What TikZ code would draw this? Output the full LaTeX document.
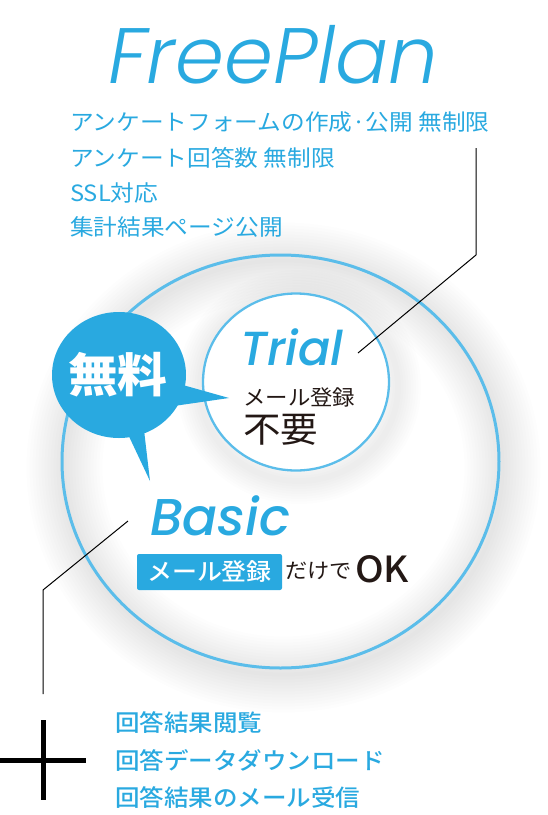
\documentclass[tikz,border=0pt]{standalone}
\usepackage{fontspec}
\usepackage{graphicx}
\usetikzlibrary{shapes,positioning,calc}
\setmainfont{Noto Sans CJK JP}
\newfontfamily\jpMed{Noto Sans CJK JP Medium}
\newfontfamily\planLight{Poppins Light Italic}
\newfontfamily\planMed{Poppins Medium Italic}
\definecolor{planblue}{HTML}{29A9E0}
\definecolor{ringblue}{HTML}{5BBDEA}
\definecolor{inkblack}{HTML}{231815}
\newcommand{\wide}[1]{\scalebox{1.057}[1]{#1}}

\begin{document}
\begin{tikzpicture}
  [x=1pt,y=-1pt,
   ringN/.style={ellipse,draw=ringblue,inner sep=0pt},
   glowN/.style={draw=black,draw opacity=0.008},
   featN/.style={anchor=west,inner sep=0pt,text=planblue,font=\fontsize{22.4}{26}\selectfont},
   listN/.style={anchor=west,inner sep=0pt,text=planblue,font=\jpMed\fontsize{23.2}{26}\selectfont},
   inkN/.style={anchor=west,inner sep=0pt,text=inkblack},
   leadL/.style={draw=black,line width=1pt},
   crossL/.style={draw=black,line width=5pt}]

  \useasboundingbox (0,0) rectangle (548,815);

  \coordinate (bigC) at (280.5,461.5);
  \coordinate (smallC) at (296,382);

  % soft shadow round the rings
  \foreach \w in {76,70,...,4}
    \draw[glowN,line width=\w pt] ($(bigC)+(3,6)$) ellipse [x radius=219, y radius=207];
  \foreach \w in {46,41,...,4}
    \draw[glowN,line width=\w pt] ($(smallC)+(3,5)$) ellipse [x radius=99, y radius=94];

  \node[ringN,line width=3pt,minimum width=437pt,minimum height=413pt] (basicR) at (bigC) {};
  \node[ringN,line width=2.3pt,fill=white,minimum width=186pt,minimum height=177pt] (trialR) at (smallC) {};

  % speech bubble
  \node[ellipse,fill=planblue,inner sep=0pt,minimum width=134pt,minimum height=126pt] (bubble) at (119,375) {};
  \fill[planblue] (165,380) -- (229,398) -- (160,408) -- cycle;
  \fill[planblue] (126,430) -- (150,481) -- (144,430) -- cycle;
  \node[text=white,inner sep=0pt,font=\bfseries\fontsize{47}{50}\selectfont] (free) at (118,375) {\wide{無料}};

  \node[anchor=base west,inner sep=0pt,text=planblue] (title) at (108,83)
    {\resizebox{330pt}{!}{\planLight FreePlan}};

  \node[featN] (feat1) at (70,122) {\wide{アンケートフォームの作成·公開 無制限}};
  \node[featN] (feat2) at (70,158) {\wide{アンケート回答数 無制限}};
  \node[featN] (feat3) at (70,193) {\wide{SSL対応}};
  \node[featN] (feat4) at (70,227) {\wide{集計結果ページ公開}};

  \node[anchor=base west,inner sep=0pt,text=planblue] (trial) at (240,365)
    {\resizebox{103pt}{!}{\planMed Trial}};
  \node[inkN,font=\fontsize{21.2}{24}\selectfont] (trialMail) at (243,397) {\wide{メール登録}};
  \node[inkN,font=\fontsize{35.5}{38}\selectfont] (trialNo) at (243,430) {\wide{不要}};

  \node[anchor=base west,inner sep=0pt,text=planblue] (basic) at (150,535)
    {\resizebox{140pt}{!}{\planMed Basic}};
  \node[fill=planblue,rounded corners=2pt,inner sep=0pt,minimum width=145pt,minimum height=36pt,
        text=white,font=\jpMed\fontsize{23.6}{26}\selectfont] (mailBox) at (209.5,572) {\wide{メール登録}};
  \node[inkN,font=\fontsize{21}{24}\selectfont] (only) at (285,571) {\wide{だけで}};
  \node[anchor=base west,inner sep=0pt,text=inkblack,font=\jpMed\fontsize{36}{38}\selectfont] (ok) at (355,582) {\wide{OK}};

  \node[listN] (plus1) at (115,723) {\wide{回答結果閲覧}};
  \node[listN] (plus2) at (115,760) {\wide{回答データダウンロード}};
  \node[listN] (plus3) at (115,798) {\wide{回答結果のメール受信}};

  % leader lines
  \coordinate (trialEnd) at (358,353);
  \coordinate (trialKnee) at (476,255);
  \coordinate (trialTop) at (476,148);
  \coordinate (basicEnd) at (128,521);
  \coordinate (basicKnee) at (43,590);
  \coordinate (basicFoot) at (43,694);
  \draw[leadL] (trialEnd) -- (trialKnee) -- (trialTop);
  \draw[leadL] (basicEnd) -- (basicKnee) -- (basicFoot);

  % plus sign
  \coordinate (crossW) at (0,760);
  \coordinate (crossE) at (86,760);
  \coordinate (crossN) at (43,720);
  \coordinate (crossS) at (43,800);
  \draw[crossL] (crossW) -- (crossE);
  \draw[crossL] (crossN) -- (crossS);
\end{tikzpicture}
\end{document}
